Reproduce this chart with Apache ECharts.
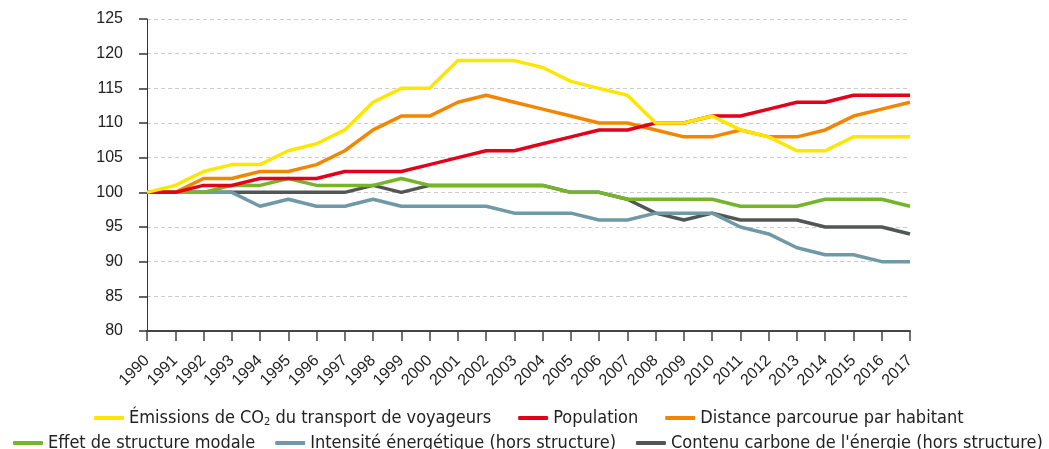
<!DOCTYPE html>
<html>
<head>
<meta charset="utf-8">
<script src="https://cdn.jsdelivr.net/npm/echarts@6/dist/echarts.min.js"></script>
<style>
  html, body { margin: 0; padding: 0; background: #fff; }
  #chart { width: 1049px; height: 449px; }
</style>
</head>
<body>
<div id="chart"></div>
<script>
const years = ['1990', '1991', '1992', '1993', '1994', '1995', '1996', '1997', '1998', '1999',
  '2000', '2001', '2002', '2003', '2004', '2005', '2006', '2007', '2008', '2009',
  '2010', '2011', '2012', '2013', '2014', '2015', '2016', '2017']

const emissions = [100, 101, 103, 104, 104, 106, 107, 109, 113, 115, 115, 119, 119, 119, 118, 116, 115, 114, 110, 110, 111, 109, 108, 106, 106, 108, 108, 108]
const population = [100, 100, 101, 101, 102, 102, 102, 103, 103, 103, 104, 105, 106, 106, 107, 108, 109, 109, 110, 110, 111, 111, 112, 113, 113, 114, 114, 114]
const distance = [100, 100, 102, 102, 103, 103, 104, 106, 109, 111, 111, 113, 114, 113, 112, 111, 110, 110, 109, 108, 108, 109, 108, 108, 109, 111, 112, 113]
const structure = [100, 100, 100, 101, 101, 102, 101, 101, 101, 102, 101, 101, 101, 101, 101, 100, 100, 99, 99, 99, 99, 98, 98, 98, 99, 99, 99, 98]
const intensite = [100, 100, 100, 100, 98, 99, 98, 98, 99, 98, 98, 98, 98, 97, 97, 97, 96, 96, 97, 97, 97, 95, 94, 92, 91, 91, 90, 90]
const carbone = [100, 100, 100, 100, 100, 100, 100, 100, 101, 100, 101, 101, 101, 101, 101, 100, 100, 99, 97, 96, 97, 96, 96, 96, 95, 95, 95, 94]

const names = {
  emissions: 'Émissions de CO2 du transport de voyageurs',
  population: 'Population',
  distance: 'Distance parcourue par habitant',
  structure: 'Effet de structure modale',
  intensite: 'Intensité énergétique (hors structure)',
  carbone: 'Contenu carbone de l\'énergie (hors structure)'
}

const legendFont = '"Liberation Sans Narrow", "DejaVu Sans Condensed", sans-serif'
const axisFont = '"Liberation Sans", Arial, sans-serif'

function line(name, data, color) {
  return {
    name: name,
    type: 'line',
    data: data,
    symbol: 'none',
    lineStyle: { color: color, width: 3.5 },
    itemStyle: { color: color },
    animation: false
  }
}

const legendBase = {
  icon: 'roundRect',
  itemWidth: 30,
  itemHeight: 4,
  itemGap: 20,
  textStyle: {
    fontFamily: legendFont,
    fontSize: 18,
    color: '#222',
    rich: {
      sub: { fontFamily: legendFont, fontSize: 11, color: '#222', padding: [9, 0, 0, 0] }
    }
  },
  formatter: function(n) {
    return n.replace('CO2', 'CO{sub|2}')
  }
}

const chart = echarts.init(document.getElementById('chart'))
chart.setOption({
  backgroundColor: '#fff',
  grid: { left: 147, right: 139, top: 19, bottom: 118 },
  legend: [
    Object.assign({}, legendBase, {
      data: [names.emissions, names.population, names.distance],
      left: 89,
      top: 404,
      itemGap: 27
    }),
    Object.assign({}, legendBase, {
      data: [names.structure, names.intensite, names.carbone],
      left: 8,
      top: 429
    })
  ],
  xAxis: {
    type: 'category',
    data: years,
    boundaryGap: false,
    axisLine: { lineStyle: { color: '#444', width: 2 } },
    axisTick: { alignWithLabel: true, length: 10, lineStyle: { color: '#444', width: 1.5 } },
    axisLabel: {
      rotate: 45,
      interval: 0,
      margin: 27,
      fontFamily: axisFont,
      fontSize: 16,
      color: '#222'
    }
  },
  yAxis: {
    type: 'value',
    min: 80,
    max: 125,
    interval: 5,
    axisLine: { show: true, lineStyle: { color: '#333', width: 1 } },
    axisTick: { show: true, length: 8, lineStyle: { color: '#333', width: 1.5 } },
    axisLabel: { fontFamily: axisFont, fontSize: 16, color: '#222', margin: 24 },
    splitLine: { lineStyle: { color: '#ccc', type: [4, 3] } }
  },
  series: [
    line(names.carbone, carbone, '#525756'),
    line(names.intensite, intensite, '#6f99a5'),
    line(names.structure, structure, '#74b52b'),
    line(names.distance, distance, '#f18700'),
    line(names.population, population, '#e3001b'),
    line(names.emissions, emissions, '#ffe600')
  ]
})
</script>
</body>
</html>
